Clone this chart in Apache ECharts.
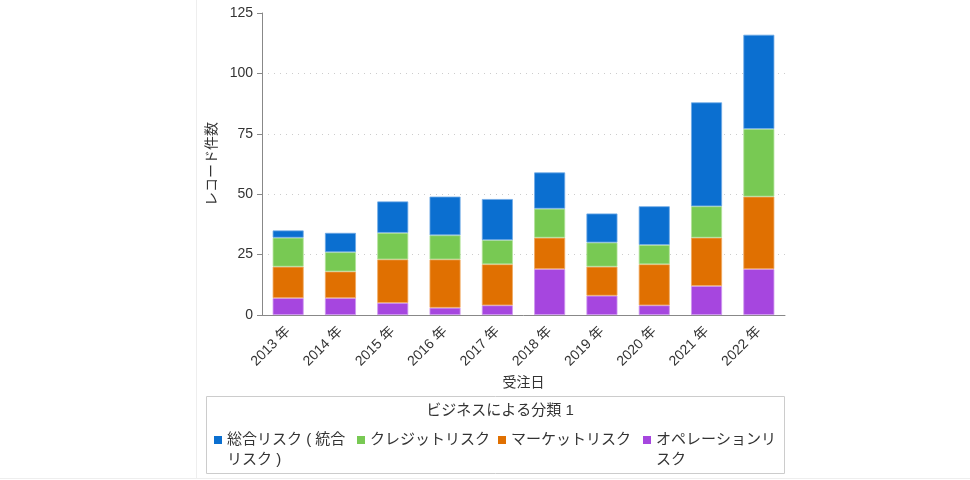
<!DOCTYPE html>
<html><head><meta charset="utf-8">
<script src="https://cdn.jsdelivr.net/npm/echarts@6/dist/echarts.min.js"></script>
<style>html,body{margin:0;padding:0;background:#fff}#c{width:970px;height:480px}</style>
</head><body><div id="c"></div>
<script>
const categories = ['2013 年','2014 年','2015 年','2016 年','2017 年','2018 年','2019 年','2020 年','2021 年','2022 年'];
const seriesNames = ['総合リスク ( 統合リスク )','クレジットリスク','マーケットリスク','オペレーションリスク'];
const operation = [7, 7, 5, 3, 4, 19, 8, 4, 12, 19];
const market    = [13, 11, 18, 20, 17, 13, 12, 17, 20, 30];
const credit    = [12, 8, 11, 10, 10, 12, 10, 8, 13, 28];
const total     = [3, 8, 13, 16, 17, 15, 12, 16, 43, 39];
const yTicks = [0, 25, 50, 75, 100, 125];
const legendTitle = 'ビジネスによる分類 1';
const xName = '受注日';
const yName = 'レコード件数';

const FONT = '"Liberation Sans", "Noto Sans CJK JP", sans-serif';
const colors = ['#0B6FD0', '#78C953', '#E07001', '#A646DF'];
const borders = ['#6FA9E6', '#B2E29A', '#F0A860', '#CE97EF'];
const dataBy = [total, credit, market, operation];
const labelsWrapped = ['\n総合リスク ( 統合\nリスク )', 'クレジットリスク', 'マーケットリスク', '\nオペレーションリ\nスク'];
const legendLeft = [214, 357, 498, 643];

const chart = echarts.init(document.getElementById('c'));
const stackOrder = [3, 2, 1, 0];
const series = stackOrder.map(i => ({
  name: seriesNames[i], type: 'bar', stack: 'a', data: dataBy[i],
  barWidth: 31,
  itemStyle: { color: colors[i], borderColor: borders[i], borderWidth: 0.8 }
}));
const legends = [0,1,2,3].map(i => {
  const multi = labelsWrapped[i].startsWith('\n');
  return {
    data: [seriesNames[i]], left: legendLeft[i], top: multi ? 410 : 430, padding: 0,
    orient: 'horizontal', icon: 'rect', itemWidth: 8, itemHeight: 8,
    itemStyle: { borderWidth: 0 },
    formatter: () => labelsWrapped[i], selectedMode: false,
    textStyle: { fontFamily: FONT, fontSize: 15, color: '#333', lineHeight: 20 }
  };
});
chart.setOption({
  animation: false,
  color: colors,
  title: { text: legendTitle, left: 495, top: 398, textAlign: 'center',
    textStyle: { fontFamily: FONT, fontSize: 15, fontWeight: 'normal', color: '#333' } },
  legend: legends,
  grid: { left: 262, right: 185, top: 13, bottom: 165 },
  xAxis: { type: 'category', data: categories, name: xName, nameLocation: 'middle', nameGap: 60,
    nameTextStyle: { fontFamily: FONT, fontSize: 14, color: '#333' },
    axisLine: { lineStyle: { color: '#888' } },
    axisTick: { alignWithLabel: true, length: 5, lineStyle: { color: '#888' } },
    axisLabel: { rotate: 45, fontFamily: FONT, fontSize: 14, color: '#333', margin: 14, interval: 0 } },
  yAxis: { type: 'value', min: yTicks[0], max: yTicks[yTicks.length-1], interval: 25,
    name: yName, nameLocation: 'middle', nameGap: 38,
    nameTextStyle: { fontFamily: FONT, fontSize: 14, color: '#333' },
    axisLine: { show: true, lineStyle: { color: '#888' } },
    axisTick: { show: true, length: 5, lineStyle: { color: '#888' } },
    axisLabel: { fontFamily: FONT, fontSize: 14, color: '#333', margin: 9 },
    splitLine: { show: true, lineStyle: { type: [1, 5], color: ['rgba(0,0,0,0)', '#ccc', '#ccc', '#ccc', '#ccc', 'rgba(0,0,0,0)'] } } },
  graphic: [
    { type: 'line', shape: { x1: 196.5, y1: 0, x2: 196.5, y2: 478 }, style: { stroke: '#eee', lineWidth: 1 }, silent: true },
    { type: 'line', shape: { x1: 0, y1: 478.5, x2: 970, y2: 478.5 }, style: { stroke: '#eee', lineWidth: 1 }, silent: true },
    { type: 'rect', shape: { x: 206.5, y: 396.5, width: 578, height: 77 }, style: { fill: 'none', stroke: '#ccc', lineWidth: 1 }, silent: true, z: -1 }
  ],
  series: series
});
</script></body></html>
